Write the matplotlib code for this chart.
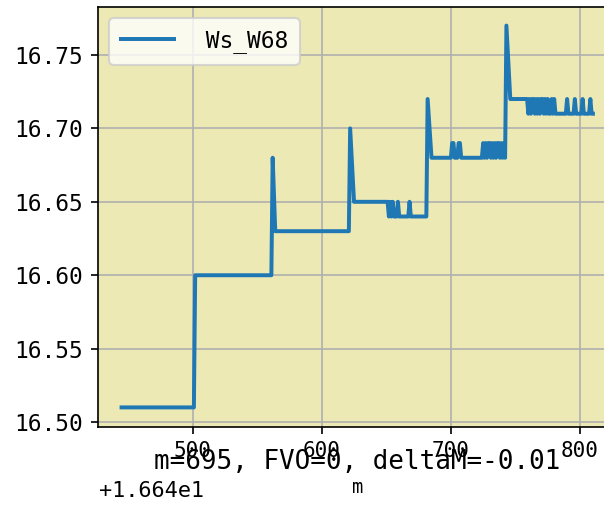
import matplotlib
matplotlib.use("Agg")
import matplotlib.pyplot as plt

# vertices of the plotted line (m, value)
m_vals = [445, 501, 502, 561, 562, 564, 621, 622, 625, 651,
          652, 653, 654, 655, 656, 658, 659, 660, 667, 668, 669,
          681, 682, 685, 700, 701, 702, 703, 705, 706, 707, 708,
          724, 725, 726, 727, 728, 729, 730, 731, 732, 733, 734, 735,
          736, 737, 738, 739, 740, 741, 742, 743, 746, 759,
          760, 761, 762, 763, 764, 765, 766, 767, 768, 769, 770, 771,
          772, 773, 774, 775, 776, 777, 778, 779, 780, 781,
          789, 790, 791, 795, 796, 797, 801, 802, 803, 807, 808, 809, 810]
ws_vals = [16.51, 16.51, 16.60, 16.60, 16.68, 16.63, 16.63, 16.70, 16.65, 16.65,
           16.64, 16.65, 16.64, 16.65, 16.64, 16.64, 16.65, 16.64, 16.64, 16.65, 16.64,
           16.64, 16.72, 16.68, 16.68, 16.69, 16.69, 16.68, 16.68, 16.69, 16.69, 16.68,
           16.68, 16.69, 16.68, 16.69, 16.68, 16.69, 16.69, 16.68, 16.69, 16.68, 16.69, 16.68,
           16.69, 16.69, 16.68, 16.69, 16.68, 16.69, 16.68, 16.77, 16.72, 16.72,
           16.71, 16.72, 16.71, 16.72, 16.72, 16.71, 16.72, 16.71, 16.72, 16.71, 16.72, 16.72,
           16.71, 16.72, 16.71, 16.72, 16.71, 16.71, 16.72, 16.71, 16.72, 16.71,
           16.71, 16.72, 16.71, 16.71, 16.72, 16.71, 16.71, 16.72, 16.71, 16.71, 16.72, 16.71, 16.71]

series_label = " Ws_W68"
note_text = "m=695, FVO=0, deltaM=-0.01"
offset_text = "+1.664e1"
x_label = "m"
x_ticks = [500, 600, 700, 800]
y_ticks = [16.50, 16.55, 16.60, 16.65, 16.70, 16.75]

plt.rcParams['font.family'] = ['DejaVu Sans Mono']

W, H, DPI = 604, 505, 150
fig = plt.figure(figsize=(W / DPI, H / DPI), dpi=DPI)
ax = fig.add_axes([98 / W, (H - 426.5) / H, (616.5 - 98) / W, (426.5 - 6.5) / H])
ax.set_facecolor('#ECE9B4')
ax.plot(m_vals, ws_vals, color='#1f77b4', lw=1.9, label=series_label)
ax.grid(True, color='#b0b0b0', lw=0.8)
ax.set_axisbelow(True)
ax.set_xlim(426.75, 828.25)
ax.set_ylim(16.497, 16.783)
ax.set_xticks(x_ticks)
ax.set_yticks(y_ticks)
ax.set_yticklabels([f"{v:.2f}" for v in y_ticks], fontsize=11)
ax.set_xticklabels([str(v) for v in x_ticks], fontsize=10)
ax.set_xlabel(x_label, fontsize=9, labelpad=8)
ax.text(0.5, -0.085, note_text, transform=ax.transAxes, ha='center', va='center', fontsize=12.5)
fig.text(99 / W, 1 - 491 / H, offset_text, ha='left', va='center', fontsize=10.5)
ax.legend(loc='upper left', fontsize=11, handlelength=2.3, handletextpad=0.8,
          borderpad=0.5)
fig.savefig('out.png', dpi=DPI)
